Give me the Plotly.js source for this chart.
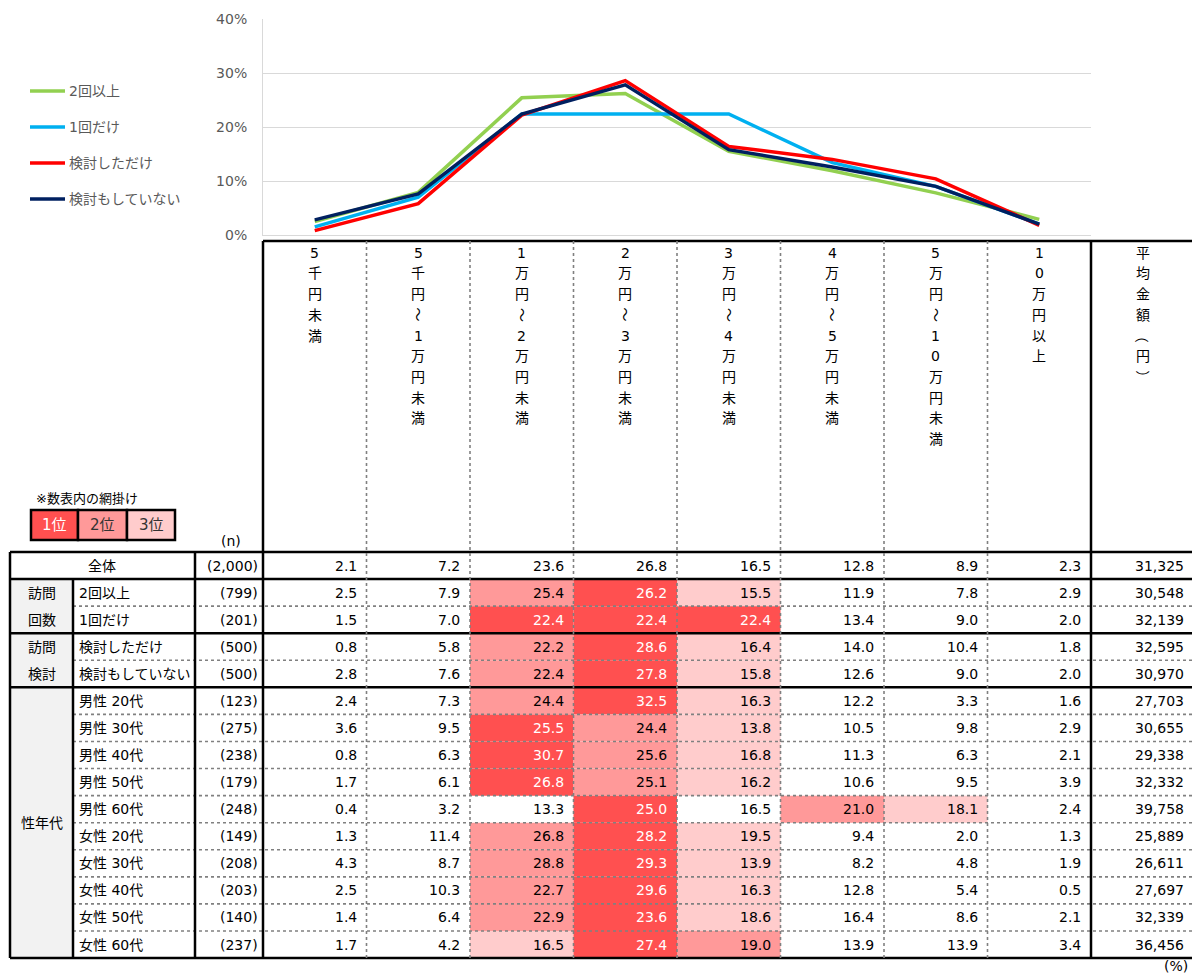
<!DOCTYPE html>
<html><head><meta charset="utf-8">
<script src="https://cdn.plot.ly/plotly-3.0.1.min.js"></script>
<style>html,body{margin:0;padding:0;background:#fff}#chart{width:1192px;height:976px}</style>
</head><body><div id="chart"></div>
<script>
// ---------- data ----------
const binLabels = ["5千円未満","5千円～1万円未満","1万円～2万円未満","2万円～3万円未満","3万円～4万円未満","4万円～5万円未満","5万円～10万円未満","10万円以上"];
const avgLabel = "平均金額（円）";
const seriesNames = ["2回以上","1回だけ","検討しただけ","検討もしていない"];
const seriesColors = ["#92D050","#00B0F0","#FF0000","#002060"];
const rowLabels = ["全体","2回以上","1回だけ","検討しただけ","検討もしていない","男性 20代","男性 30代","男性 40代","男性 50代","男性 60代","女性 20代","女性 30代","女性 40代","女性 50代","女性 60代"];
const nCounts = [2000,799,201,500,500,123,275,238,179,248,149,208,203,140,237];
const avgYen = [31325,30548,32139,32595,30970,27703,30655,29338,32332,39758,25889,26611,27697,32339,36456];
const groupNames = [["訪問","回数"],["訪問","検討"],["性年代"]];
const pctAll      = [2.1, 7.2, 23.6, 26.8, 16.5, 12.8, 8.9, 2.3];
const pctVisit2   = [2.5, 7.9, 25.4, 26.2, 15.5, 11.9, 7.8, 2.9];
const pctVisit1   = [1.5, 7.0, 22.4, 22.4, 22.4, 13.4, 9.0, 2.0];
const pctConsider = [0.8, 5.8, 22.2, 28.6, 16.4, 14.0, 10.4, 1.8];
const pctNone     = [2.8, 7.6, 22.4, 27.8, 15.8, 12.6, 9.0, 2.0];
const pctM20 = [2.4, 7.3, 24.4, 32.5, 16.3, 12.2, 3.3, 1.6];
const pctM30 = [3.6, 9.5, 25.5, 24.4, 13.8, 10.5, 9.8, 2.9];
const pctM40 = [0.8, 6.3, 30.7, 25.6, 16.8, 11.3, 6.3, 2.1];
const pctM50 = [1.7, 6.1, 26.8, 25.1, 16.2, 10.6, 9.5, 3.9];
const pctM60 = [0.4, 3.2, 13.3, 25.0, 16.5, 21.0, 18.1, 2.4];
const pctF20 = [1.3, 11.4, 26.8, 28.2, 19.5, 9.4, 2.0, 1.3];
const pctF30 = [4.3, 8.7, 28.8, 29.3, 13.9, 8.2, 4.8, 1.9];
const pctF40 = [2.5, 10.3, 22.7, 29.6, 16.3, 12.8, 5.4, 0.5];
const pctF50 = [1.4, 6.4, 22.9, 23.6, 18.6, 16.4, 8.6, 2.1];
const pctF60 = [1.7, 4.2, 16.5, 27.4, 19.0, 13.9, 13.9, 3.4];
const yTicks = [0,10,20,30,40];
const rankLabels = ["1位","2位","3位"];

// ---------- layout helpers ----------
const W = 1192, H = 976;
const FONT = "DejaVu Sans, Noto Sans CJK JP, sans-serif";
const pctRows = [pctAll,pctVisit2,pctVisit1,pctConsider,pctNone,pctM20,pctM30,pctM40,pctM50,pctM60,pctF20,pctF30,pctF40,pctF50,pctF60];
const chartSeries = [pctVisit2,pctVisit1,pctConsider,pctNone];
const rankColors = ["#FF5050","#FF9999","#FFCCCC"];
const PX = p => p / W, PY = p => 1 - p / H;
const COL0 = 263, COLW = 103.5, ROW0 = 552, ROWH = 27.07, HEAD_TOP = 241;
const colX = j => COL0 + j * COLW;
const rowY = k => ROW0 + k * ROWH;
const TABLE_L = 10, GROUP_R = 73, LABEL_R = 195, TABLE_R = 1192;

const annotations = [], shapes = [];
function ann(text, x, y, o = {}) {
  annotations.push({xref:'paper', yref:'paper', x:PX(x), y:PY(y), text, showarrow:false,
    xanchor:o.xa || 'center', yanchor:'middle', textangle:o.angle || 0,
    font:{family:FONT, size:o.size || 14, color:o.color || '#000'}});
}
function line(x0,y0,x1,y1,thick,color,width) {
  shapes.push({type:'line', xref:'paper', yref:'paper', x0:PX(x0), y0:PY(y0), x1:PX(x1), y1:PY(y1),
    line: thick ? {color: color || '#000', width: width || 2.5} : {color:'#808080', width:1.6, dash:'dot'}});
}
function rect(x0,y0,x1,y1,fill,border) {
  shapes.push({type:'rect', xref:'paper', yref:'paper', x0:PX(x0), y0:PY(y0), x1:PX(x1), y1:PY(y1),
    fillcolor:fill, line: border ? {color:'#000', width:2.5} : {width:0}});
}

// ---------- traces ----------
const traces = chartSeries.map((s,i) => ({
  type:'scatter', mode:'lines', x:binLabels, y:s, name:seriesNames[i],
  line:{color:seriesColors[i], width:3.5}, hoverinfo:'skip', showlegend:false
}));

// ---------- manual legend ----------
seriesNames.forEach((nm,i) => {
  const y = 91 + i * 36;
  line(30, y, 65, y, true, seriesColors[i], 3.5);
  ann(nm, 67, y, {xa:'left', color:'#595959'});
});

// ---------- table backgrounds ----------
rect(TABLE_L, rowY(1), GROUP_R, rowY(15), '#F2F2F2', false);
pctRows.forEach((row, r) => {
  if (r === 0) return;
  row.forEach((v, c) => {
    const rank = 1 + row.filter(o => o > v).length;
    if (rank <= 3) rect(colX(c), rowY(r), colX(c+1), rowY(r+1), rankColors[rank-1], false);
  });
});

// ---------- table grid ----------
line(COL0, HEAD_TOP, TABLE_R, HEAD_TOP, true);
const thickRows = [0,1,3,5,15];
for (let k = 0; k <= 15; k++) {
  if (thickRows.includes(k)) line(TABLE_L, rowY(k), TABLE_R, rowY(k), true);
  else line(GROUP_R, rowY(k), TABLE_R, rowY(k), false);
}
line(TABLE_L, rowY(0), TABLE_L, rowY(15), true);
line(GROUP_R, rowY(1), GROUP_R, rowY(15), true);
line(LABEL_R, rowY(0), LABEL_R, rowY(15), true);
for (let j = 0; j <= binLabels.length; j++) {
  const thick = (j === 0 || j === binLabels.length);
  line(colX(j), HEAD_TOP, colX(j), rowY(15), thick);
}

// ---------- header (vertical text) ----------
const rotated = ["～","（","）"];
[...binLabels, avgLabel].forEach((lab, j) => {
  const cx = colX(j) + COLW / 2;
  Array.from(lab).forEach((ch, i) => {
    ann(ch, cx, 252.7 + i * 20.7, {angle: rotated.includes(ch) ? 90 : 0});
  });
});

// ---------- table body text ----------
const rc = k => rowY(k) + ROWH / 2;
ann(rowLabels[0], (TABLE_L + LABEL_R) / 2, rc(0));
rowLabels.forEach((lab, r) => {
  if (r > 0) ann(lab, GROUP_R + 4, rc(r), {xa:'left'});
  ann("(" + nCounts[r].toLocaleString('en-US') + ")", COL0 - 3, rc(r), {xa:'right'});
  pctRows[r].forEach((v, c) => {
    const rank = 1 + pctRows[r].filter(o => o > v).length;
    const white = r > 0 && rank === 1;
    ann(v.toFixed(1), colX(c+1) - 8, rc(r), {xa:'right', color: white ? '#FFFFFF' : '#000'});
  });
  ann(avgYen[r].toLocaleString('en-US'), TABLE_R - 6, rc(r), {xa:'right'});
});
const gx = (TABLE_L + GROUP_R) / 2;
ann(groupNames[0][0], gx, rc(1)); ann(groupNames[0][1], gx, rc(2));
ann(groupNames[1][0], gx, rc(3)); ann(groupNames[1][1], gx, rc(4));
ann(groupNames[2][0], gx, (rowY(5) + rowY(15)) / 2);

// ---------- misc labels ----------
ann("※数表内の網掛け", 34, 498, {xa:'left', size:13});
const boxX = [31, 78, 127, 175];
rankLabels.forEach((t, i) => {
  rect(boxX[i], 510, boxX[i+1], 540, rankColors[i], true);
  ann(t, (boxX[i] + boxX[i+1]) / 2, 525, {size:15, color: i === 0 ? '#FFFFFF' : '#333'});
});
ann("(n)", 231, 541);
ann("(%)", 1176, 966);

// ---------- layout ----------
const layout = {
  width: W, height: H, margin:{l:0, r:0, t:0, b:0}, paper_bgcolor:'#fff', plot_bgcolor:'#fff',
  font:{family:FONT, size:14, color:'#595959'},
  xaxis:{domain:[PX(COL0), PX(colX(binLabels.length))], type:'category', range:[-0.5, binLabels.length - 0.5],
    showticklabels:false, showgrid:false, zeroline:false, showline:true, linecolor:'#D9D9D9', linewidth:1, fixedrange:true},
  yaxis:{domain:[PY(235), PY(19)], range:[0,40], tickvals:yTicks, ticktext:yTicks.map(v => v + "%"),
    showgrid:true, gridcolor:'#D9D9D9', zeroline:false, showline:true, linecolor:'#D9D9D9', linewidth:1,
    ticks:'', ticklabelstandoff:12, tickfont:{family:FONT, size:14, color:'#595959'}, fixedrange:true},
  showlegend:false, annotations, shapes
};
Plotly.newPlot('chart', traces, layout, {displayModeBar:false, staticPlot:true});
</script></body></html>
